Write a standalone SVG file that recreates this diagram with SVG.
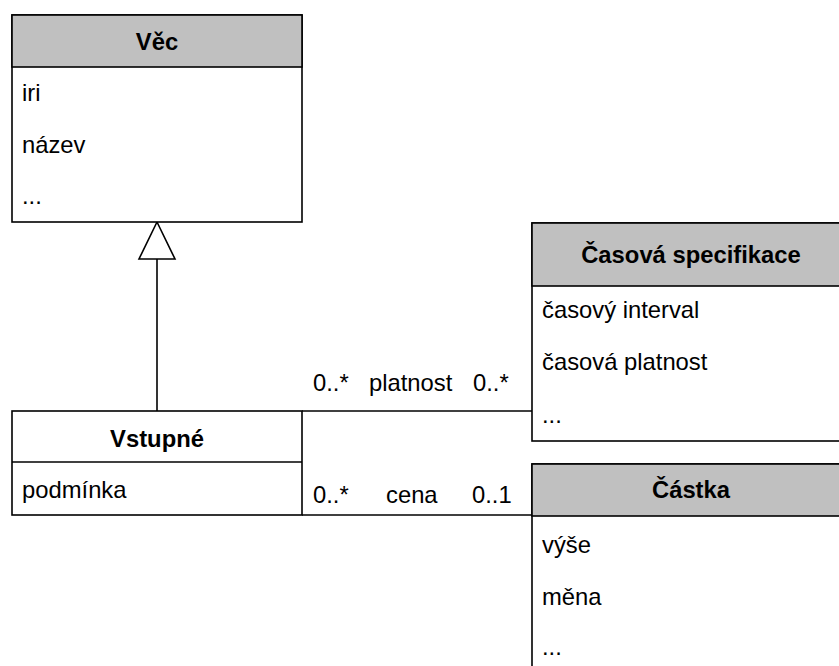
<svg xmlns="http://www.w3.org/2000/svg" width="839" height="666" viewBox="0 0 839 666">
  <style>
    text { font-family: "Liberation Sans", Arial, sans-serif; font-size: 23.8px; fill: #000; }
    .title { font-weight: bold; text-anchor: middle; }
    .box { fill: #fff; stroke: #000; stroke-width: 1.6; }
    .head { fill: #c0c0c0; stroke: #000; stroke-width: 1.6; }
    .line { fill: none; stroke: #000; stroke-width: 1.6; }
  </style>
  <rect width="839" height="666" fill="#fff"/>

  <!-- connectors -->
  <g id="connectors">
    <!-- generalization Vstupné -> Věc -->
    <line class="line" x1="157" y1="259" x2="157" y2="411"/>
    <polygon class="box" points="157,222 175,259 139,259"/>
    <!-- association platnost -->
    <line class="line" x1="302" y1="411" x2="532" y2="411"/>
    <text x="313" y="391">0..*</text>
    <text x="369" y="391">platnost</text>
    <text x="473" y="391">0..*</text>
    <!-- association cena -->
    <line class="line" x1="302" y1="515" x2="532" y2="515"/>
    <text x="313" y="503">0..*</text>
    <text x="386" y="503">cena</text>
    <text x="472" y="503">0..1</text>
  </g>

  <!-- class Věc -->
  <g id="vec">
    <rect class="box" x="12" y="15" width="290" height="207"/>
    <rect class="head" x="12" y="15" width="290" height="52"/>
    <text class="title" x="157" y="50">Věc</text>
    <text x="22" y="101">iri</text>
    <text x="22" y="153">název</text>
    <text x="22" y="204">...</text>
  </g>

  <!-- class Vstupné -->
  <g id="vstupne">
    <rect class="box" x="12" y="411" width="290" height="104"/>
    <line class="line" x1="12" y1="462" x2="302" y2="462"/>
    <text class="title" x="157" y="447">Vstupné</text>
    <text x="22" y="498">podmínka</text>
  </g>

  <!-- class Časová specifikace -->
  <g id="casova-specifikace">
    <rect class="box" x="532" y="223" width="318" height="218"/>
    <rect class="head" x="532" y="223" width="318" height="63"/>
    <text class="title" x="691" y="263">Časová specifikace</text>
    <text x="542" y="318">časový interval</text>
    <text x="542" y="370">časová platnost</text>
    <text x="542" y="423">...</text>
  </g>

  <!-- class Částka -->
  <g id="castka">
    <rect class="box" x="532" y="464" width="318" height="220"/>
    <rect class="head" x="532" y="464" width="318" height="52"/>
    <text class="title" x="691" y="498">Částka</text>
    <text x="542" y="553">výše</text>
    <text x="542" y="605">měna</text>
    <text x="542" y="655">...</text>
  </g>
</svg>
